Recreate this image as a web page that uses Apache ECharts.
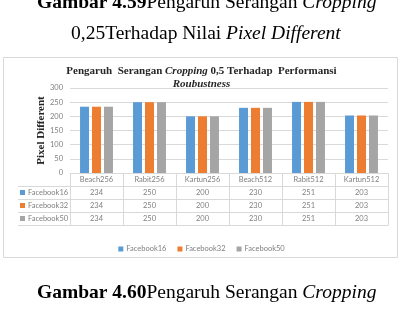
<!DOCTYPE html>
<html>
<head>
<meta charset="utf-8">
<script src="https://cdn.jsdelivr.net/npm/echarts@6/dist/echarts.min.js"></script>
<style>
  html, body { margin: 0; padding: 0; background: #fff; }
  #chart { width: 403px; height: 310px; }
</style>
</head>
<body>
<div id="chart"></div>
<script>
const categories = ['Beach256', 'Rabit256', 'Kartun256', 'Beach512', 'Rabit512', 'Kartun512']
const seriesNames = ['Facebook16', 'Facebook32', 'Facebook50']
const facebook16 = [234, 250, 200, 230, 251, 203]
const facebook32 = [234, 250, 200, 230, 251, 203]
const facebook50 = [234, 250, 200, 230, 251, 203]
const yTicks = [0, 50, 100, 150, 200, 250, 300]

const seriesValues = [facebook16, facebook32, facebook50]
const colors = ['#5b9bd5', '#ed7d31', '#a5a5a5']
const lineColor = '#d9d9d9'
const labelColor = '#808080'
const serif = '"Liberation Serif", "DejaVu Serif", serif'
const sans = 'Lato, "Liberation Sans", sans-serif'
const smallFont = 7.5

const chart = echarts.init(document.getElementById('chart'))

// rows of the data table under the axis, each one a hidden category axis
const tableAxes = seriesValues.map((values, i) => ({
  type: 'category',
  data: categories,
  position: 'bottom',
  offset: 13 * (i + 1),
  axisLine: { lineStyle: { color: lineColor } },
  axisTick: { show: false },
  axisLabel: {
    margin: 3,
    fontSize: smallFont,
    fontFamily: sans,
    color: labelColor,
    formatter: (v, idx) => String(values[idx])
  }
}))
tableAxes.push({
  type: 'category',
  data: categories,
  position: 'bottom',
  offset: 52,
  axisLine: { lineStyle: { color: lineColor } },
  axisTick: { show: false },
  axisLabel: { show: false }
})

const rowGraphics = []
seriesNames.forEach((name, i) => {
  const y = 186 + 13 * i
  rowGraphics.push({
    type: 'rect',
    shape: { x: 20, y: y + 4, width: 5, height: 5 },
    style: { fill: colors[i] }
  })
  rowGraphics.push({
    type: 'text',
    x: 28,
    y: y + 6.5,
    style: {
      text: name,
      fill: labelColor,
      fontSize: smallFont,
      fontFamily: sans,
      verticalAlign: 'middle'
    }
  })
})
;[186, 199, 212, 225].forEach(y => {
  rowGraphics.push({
    type: 'line',
    shape: { x1: 18, y1: y + 0.5, x2: 70, y2: y + 0.5 },
    style: { stroke: lineColor, lineWidth: 1 }
  })
})

const captionRich = {
  b: { fontFamily: serif, fontWeight: 'bold', fontSize: 19.5, color: '#111' },
  r: { fontFamily: serif, fontSize: 19.5, color: '#111' },
  i: { fontFamily: serif, fontStyle: 'italic', fontSize: 19.5, color: '#111' }
}

chart.setOption({
  backgroundColor: '#fff',
  animation: false,
  color: colors,
  title: {
    left: 'center',
    top: 60,
    text: '{b|Pengaruh  Serangan }{bi|Cropping}{b| 0,5 Terhadap  Performansi}\n{bi|Roubustness}',
    textStyle: {
      rich: {
        b: { fontFamily: serif, fontWeight: 'bold', fontSize: 11, color: '#262626', lineHeight: 13 },
        bi: { fontFamily: serif, fontWeight: 'bold', fontStyle: 'italic', fontSize: 11, color: '#262626', lineHeight: 13 }
      }
    }
  },
  legend: {
    left: 'center',
    top: 240,
    icon: 'rect',
    itemWidth: 5,
    itemHeight: 5,
    itemGap: 11,
    textStyle: { fontSize: smallFont, fontFamily: sans, color: labelColor, padding: [0, 0, 0, -2] },
    data: seriesNames
  },
  grid: {
    left: 70,
    right: 15,
    top: 88,
    bottom: 137
  },
  xAxis: [
    {
      type: 'category',
      data: categories,
      axisLine: { lineStyle: { color: lineColor } },
      axisTick: { show: true, interval: 0, length: 52, lineStyle: { color: lineColor } },
      axisLabel: { margin: 3, fontSize: smallFont, fontFamily: sans, color: labelColor, interval: 0 }
    }
  ].concat(tableAxes),
  yAxis: {
    type: 'value',
    min: yTicks[0],
    max: yTicks[yTicks.length - 1],
    interval: yTicks[1] - yTicks[0],
    name: 'Pixel Different',
    nameLocation: 'middle',
    nameGap: 23,
    nameRotate: 90,
    nameMoveOverlap: false,
    nameTextStyle: { fontFamily: serif, fontWeight: 'bold', fontSize: 11, color: '#262626' },
    axisLine: { show: false },
    axisTick: { show: false },
    axisLabel: { margin: 7, fontSize: smallFont, fontFamily: sans, color: labelColor },
    splitLine: { lineStyle: { color: lineColor } }
  },
  series: seriesNames.map((name, i) => ({
    name,
    type: 'bar',
    xAxisIndex: 0,
    barWidth: 9,
    barGap: '33%',
    data: seriesValues[i]
  })),
  graphic: [
    {
      type: 'rect',
      z: -1,
      shape: { x: 3.5, y: 57.5, width: 394, height: 200 },
      style: { fill: 'none', stroke: lineColor, lineWidth: 1 }
    },
    {
      type: 'text',
      left: 37,
      top: -7,
      style: { text: '{b|Gambar 4.59}{r|Pengaruh Serangan }{i|Cropping}', rich: captionRich }
    },
    {
      type: 'text',
      left: 71,
      top: 24,
      style: { text: '{r|0,25Terhadap Nilai }{i|Pixel Different}', rich: captionRich }
    },
    {
      type: 'text',
      left: 37,
      top: 283,
      style: { text: '{b|Gambar 4.60}{r|Pengaruh Serangan }{i|Cropping}', rich: captionRich }
    }
  ].concat(rowGraphics)
})
</script>
</body>
</html>
